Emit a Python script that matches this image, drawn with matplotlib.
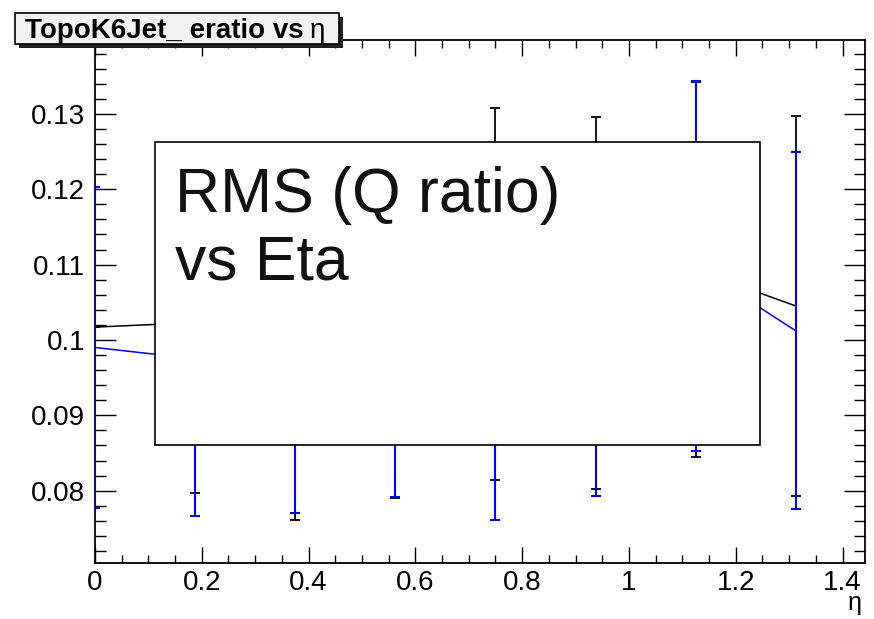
import numpy as np
import matplotlib.pyplot as plt
from matplotlib.patches import Rectangle
from matplotlib.ticker import MultipleLocator, FormatStrFormatter

# eta bin positions
eta = [0.0, 0.1875, 0.375, 0.5625, 0.75, 0.9375, 1.125, 1.3125]

# black profile: RMS of eratio and its error
black_val = [0.1017, 0.1023, 0.1005, 0.1020, 0.1061, 0.1049, 0.1093, 0.1045]
black_err = [0.0, 0.0226, 0.0244, 0.0230, 0.0247, 0.0247, 0.0249, 0.0252]

# blue profile
blue_val = [0.0990, 0.0975, 0.0985, 0.1015, 0.1005, 0.1020, 0.1098, 0.1012]
blue_err = [0.0213, 0.0209, 0.0215, 0.0224, 0.0244, 0.0227, 0.0246, 0.0237]

W, H = 874, 619
fig = plt.figure(figsize=(W / 100, H / 100), dpi=100)
fig.patch.set_facecolor('white')
plt.rcParams['font.family'] = ['Liberation Sans', 'DejaVu Sans']

# frame placed in pixels like the ROOT canvas
left, right, top, bottom = 95, 865, 40, 563
ax = fig.add_axes([left / W, (H - bottom) / H, (right - left) / W, (bottom - top) / H])

ax.plot(eta, black_val, color='black', lw=1.1, zorder=3)
ax.errorbar(eta, black_val, yerr=black_err, fmt='none', ecolor='black',
            elinewidth=1.3, capsize=3.6, capthick=1.3, zorder=3)
ax.plot(eta, blue_val, color='#0000ff', lw=1.1, zorder=4)
ax.errorbar(eta, blue_val, yerr=blue_err, fmt='none', ecolor='#0000ff',
            elinewidth=1.5, capsize=3.6, capthick=1.5, zorder=4)

ax.set_xlim(0, 1.442)
ax.set_ylim(0.0704, 0.1398)

ax.xaxis.set_major_locator(MultipleLocator(0.2))
ax.xaxis.set_minor_locator(MultipleLocator(0.05))
ax.yaxis.set_major_locator(MultipleLocator(0.01))
ax.yaxis.set_minor_locator(MultipleLocator(0.002))
ax.xaxis.set_major_formatter(FormatStrFormatter('%g'))
ax.yaxis.set_major_formatter(FormatStrFormatter('%g'))

ax.tick_params(which='both', direction='in', top=True, right=True, width=1.0, colors='black')
ax.tick_params(axis='x', which='major', length=11.5, labelsize=20, pad=5)
ax.tick_params(axis='x', which='minor', length=6)
ax.tick_params(axis='y', which='major', length=15, labelsize=20, pad=7)
ax.tick_params(axis='y', which='minor', length=8)
for sp in ax.spines.values():
    sp.set_linewidth(1.3)

# axis title at the end of x axis
fig.text(855 / W, 1 - 603 / H, '\u03b7', fontsize=18, ha='center', va='center')

# large text pave
px = lambda x0, y0, x1, y1: ((x0 / W, 1 - y1 / H), (x1 - x0) / W, (y1 - y0) / H)
xy, w, h = px(155, 142, 760, 445)
fig.add_artist(Rectangle(xy, w, h, transform=fig.transFigure, facecolor='white',
                         edgecolor='black', lw=1.2, zorder=5))
fig.text(175 / W, 1 - 212 / H, 'RMS (Q ratio)', fontsize=45, color='#111111',
         va='baseline', zorder=6)
fig.text(175 / W, 1 - 280 / H, 'vs Eta', fontsize=45, color='#111111',
         va='baseline', zorder=6)

# histogram title box with shadow
xy, w, h = px(19, 17, 343, 48)
fig.add_artist(Rectangle(xy, w, h, transform=fig.transFigure, facecolor='#222222',
                         edgecolor='none', zorder=5))
xy, w, h = px(15, 13, 339, 44)
fig.add_artist(Rectangle(xy, w, h, transform=fig.transFigure, facecolor='#f2f2f2',
                         edgecolor='black', lw=1.2, zorder=6))
t = fig.text(25 / W, 1 - 38 / H, 'TopoK6Jet_ eratio vs', fontsize=20, fontweight='bold',
             va='baseline', zorder=7)
bb = t.get_window_extent(renderer=fig.canvas.get_renderer())
fig.text(bb.x1 / W + 6 / W, 1 - 38 / H, '\u03b7', fontsize=20, va='baseline', zorder=7)

fig.savefig('out.png', dpi=100)
